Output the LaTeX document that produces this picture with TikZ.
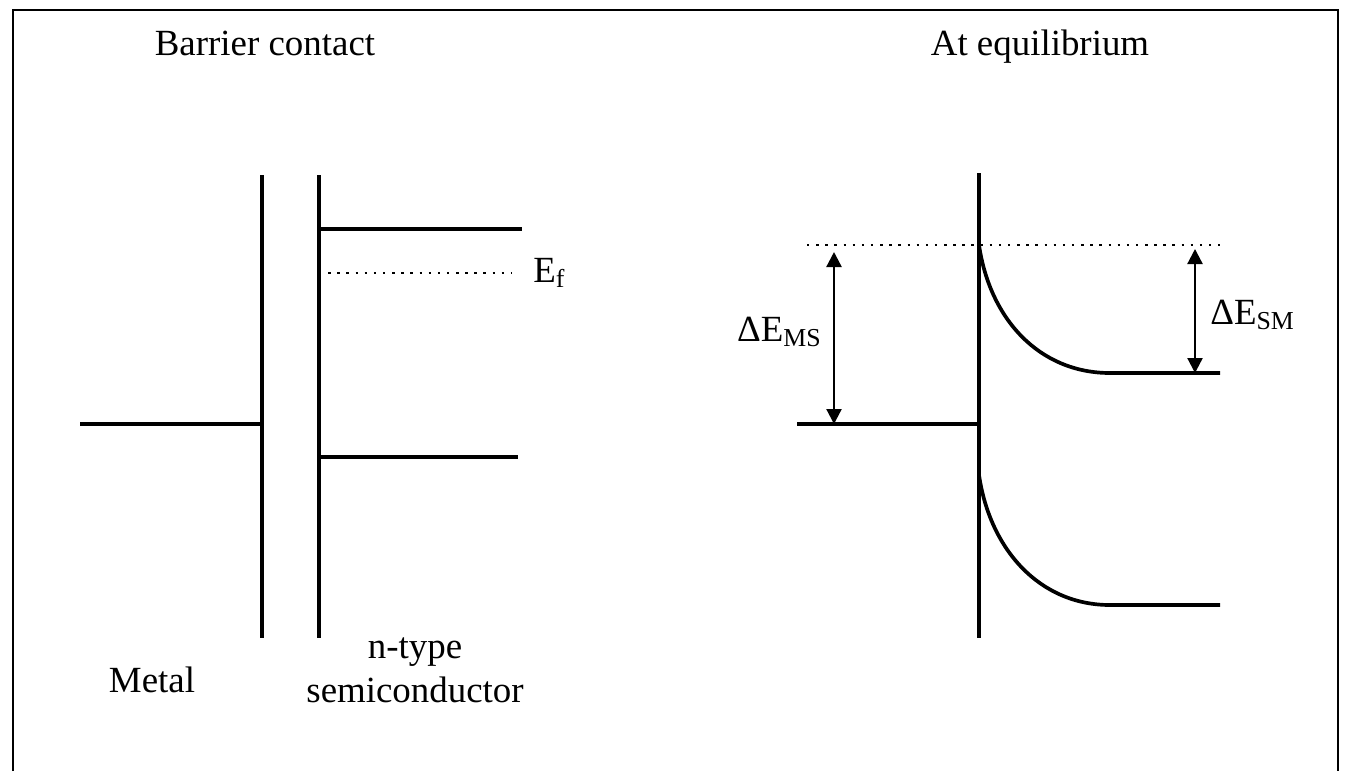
\documentclass[tikz,border=0pt]{standalone}
\usepackage{fontspec}
\setmainfont{Liberation Serif}
\usetikzlibrary{arrows.meta}

\tikzset{
  band/.style={line width=2.1pt},
  level/.style={line width=1.3pt, dash pattern=on 1.4pt off 3.8pt},
  gap/.style={line width=1.3pt, {Triangle[length=3mm,width=3mm]}-{Triangle[length=3mm,width=3mm]}},
  lbl/.style={font=\fontsize{21}{25}\selectfont, inner sep=0pt}
}

\begin{document}
\begin{tikzpicture}[x=0.02cm, y=-0.02cm]
\useasboundingbox (0,0) rectangle (1348,771);
% frame
\draw[line width=1.1pt] (13,771) -- (13,10) -- (1338,10) -- (1338,771);

% barrier contact
\node[lbl, anchor=base] (tleft) at (265,55) {Barrier contact};
\draw[band] (262,175) -- (262,638);
\draw[band] (319,175) -- (319,638);
\draw[band] (80,424) -- (262,424);
\draw[band] (319,229) -- (522,229);
\draw[level] (319,273) -- (512,273);
\draw[band] (319,457) -- (518,457);
\node[lbl, anchor=west] (ef) at (533,273) {E\textsubscript{f}};
\node[lbl] (metal) at (152,680) {Metal};
\node[lbl, align=center] (semi) at (415,670) {n-type\\semiconductor};

% at equilibrium
\node[lbl, anchor=base] (tright) at (1040,55) {At equilibrium};
\draw[band] (979,173) -- (979,638);
\draw[band] (797,424) -- (979,424);
\draw[level] (807,245) -- (1220,245);
\draw[band] (979,245) .. controls (990,320) and (1040,373) .. (1110,373) -- (1220,373);
\draw[band] (979,475) .. controls (990,550) and (1040,605) .. (1110,605) -- (1220,605);

\coordinate (ms1) at (834,252);
\coordinate (ms2) at (834,424);
\coordinate (sm1) at (1195,249);
\coordinate (sm2) at (1195,373);
\draw[gap] (ms1) -- (ms2);
\draw[gap] (sm1) -- (sm2);
\node[lbl, anchor=east] (dms) at (822,332) {ΔE\textsubscript{MS}};
\node[lbl, anchor=west] (dsm) at (1210,315) {ΔE\textsubscript{SM}};
\end{tikzpicture}
\end{document}
